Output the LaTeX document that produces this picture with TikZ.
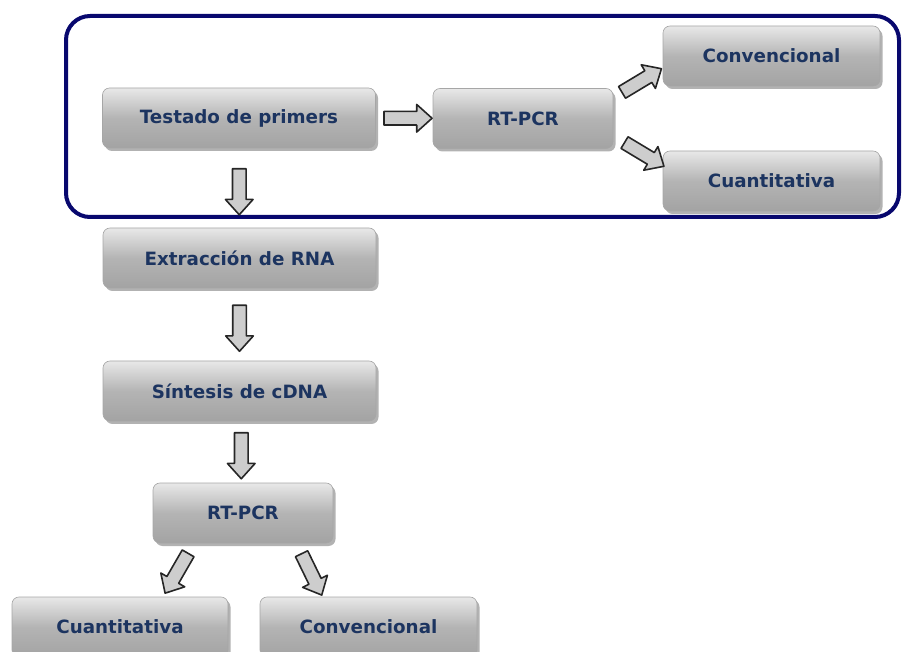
\documentclass[tikz,border=0pt]{standalone}
\usepackage{fontspec}
\setmainfont{DejaVu Sans}
\usetikzlibrary{shapes.arrows,shadows,calc}

\definecolor{textnavy}{RGB}{28,52,96}
\definecolor{framenavy}{RGB}{8,8,110}
\definecolor{boxgray}{RGB}{180,180,180}
\definecolor{boxedge}{RGB}{163,163,163}
\definecolor{arrowgray}{RGB}{205,205,205}

\tikzset{
  stage/.style={rectangle, rounded corners=7pt, draw=gray!70, line width=0.6pt,
    top color=gray!18, bottom color=boxedge, middle color=boxgray,
    drop shadow={shadow xshift=2.5pt, shadow yshift=-3pt, fill=gray!75, opacity=0.8},
    text=textnavy, font=\bfseries\fontsize{18.3}{20}\selectfont,
    inner sep=0pt, minimum height=60pt},
  blockarrow/.style={single arrow, draw=black!85, fill=arrowgray, line width=1.6pt,
    inner xsep=0pt, inner ysep=6pt, minimum height=46pt,
    single arrow head extend=7pt, single arrow tip angle=84}
}

\begin{document}
\begin{tikzpicture}[x=1pt, y=-1pt, line join=round]
  \useasboundingbox (0,0) rectangle (903,652);

  % group frame
  \draw [framenavy, line width=4pt, rounded corners=24pt] (66,16) rectangle (899,217);

  % stages
  \node (test)   [stage, minimum width=273pt] at (239,118)   {Testado de primers};
  \node (rta)    [stage, minimum width=180pt] at (523,118.5) {RT-PCR};
  \node (conva)  [stage, minimum width=217pt] at (771.5,56)  {Convencional};
  \node (cuanta) [stage, minimum width=217pt] at (771.5,181) {Cuantitativa};
  \node (extr)   [stage, minimum width=273pt] at (239.5,258) {Extracción de RNA};
  \node (sint)   [stage, minimum width=273pt] at (239.5,391) {Síntesis de cDNA};
  \node (rtb)    [stage, minimum width=180pt] at (243,513)   {RT-PCR};
  \node (cuantb) [stage, minimum width=216pt] at (120,627)   {Cuantitativa};
  \node (convb)  [stage, minimum width=217pt] at (368.5,627) {Convencional};

  % block arrows
  \node (a1) [blockarrow, minimum height=48pt] at ($(test.east)!0.5!(rta.west)$) {};
  \node (a2) [blockarrow, rotate=31]  at (638.5,82.5) {};
  \node (a3) [blockarrow, rotate=-31] at (641,152.5) {};
  \node (a4) [blockarrow, rotate=-90] at ($(test.south)!0.5!(extr.north)$) {};
  \node (a5) [blockarrow, rotate=-90] at ($(extr.south)!0.5!(sint.north)$) {};
  \node (a6) [blockarrow, rotate=-90] at ($(sint.south)!0.5!(rtb.north)$) {};
  \node (a7) [blockarrow, rotate=-120] at (178.5,570) {};
  \node (a8) [blockarrow, rotate=-64]  at (310,571) {};
\end{tikzpicture}
\end{document}
